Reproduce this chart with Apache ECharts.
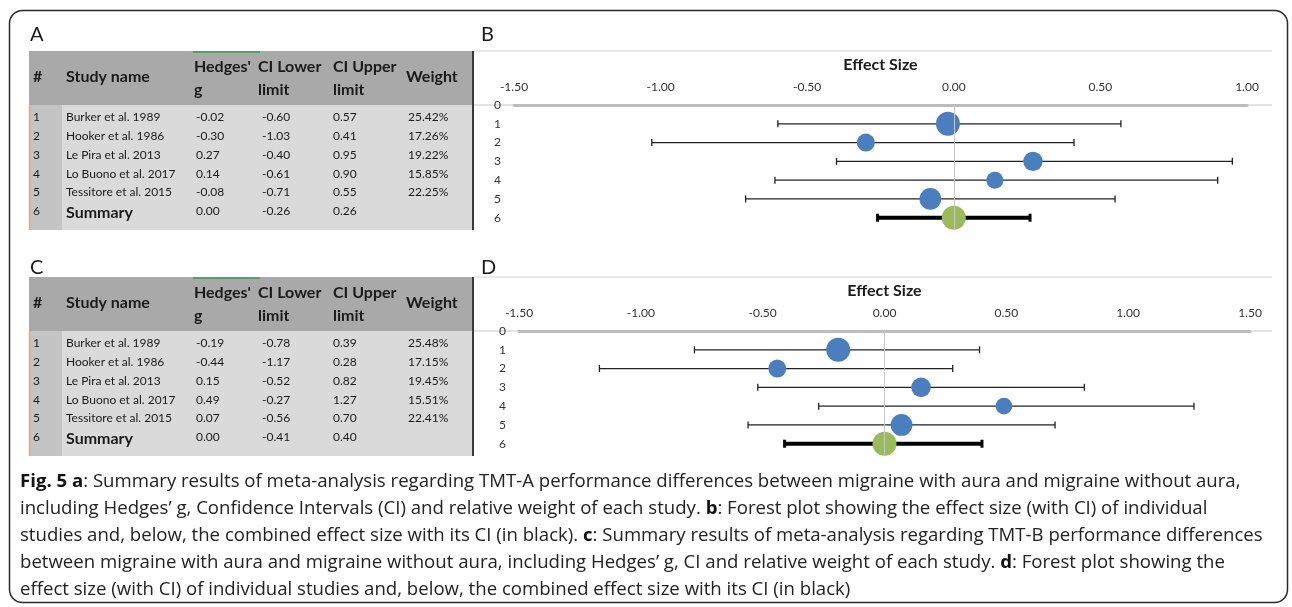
<!DOCTYPE html>
<html>
<head>
<meta charset="utf-8">
<title>Fig. 5 forest plots</title>
<script src="https://cdn.jsdelivr.net/npm/echarts@6/dist/echarts.min.js"></script>
<style>
  html, body { margin: 0; padding: 0; background: #fff; }
  #chart { width: 1292px; height: 607px; }
</style>
</head>
<body>
<div id="chart"></div>
<script>
// studies (same order in both tables)
const rowIds = [1, 2, 3, 4, 5, 6]
const studyNames = ['Burker et al. 1989', 'Hooker et al. 1986', 'Le Pira et al. 2013',
  'Lo Buono et al. 2017', 'Tessitore et al. 2015', 'Summary']

// TMT-A (panels A and B)
const tmtA_g = [-0.02, -0.30, 0.27, 0.14, -0.08, 0.00]
const tmtA_lower = [-0.60, -1.03, -0.40, -0.61, -0.71, -0.26]
const tmtA_upper = [0.57, 0.41, 0.95, 0.90, 0.55, 0.26]
const tmtA_weight = [25.42, 17.26, 19.22, 15.85, 22.25, null]

// TMT-B (panels C and D)
const tmtB_g = [-0.19, -0.44, 0.15, 0.49, 0.07, 0.00]
const tmtB_lower = [-0.78, -1.17, -0.52, -0.27, -0.56, -0.41]
const tmtB_upper = [0.39, 0.28, 0.82, 1.27, 0.70, 0.40]
const tmtB_weight = [25.48, 17.15, 19.45, 15.51, 22.41, null]

// axis ranges of the two forest plots
const axisB = [-1.5, 1.0]
const axisD = [-1.5, 1.5]
const rowTicks = [0, 1, 2, 3, 4, 5, 6]

const captionLines = [
  '{b|Fig. 5 a}: Summary results of meta-analysis regarding TMT-A performance differences between migraine with aura and migraine without aura,',
  'including Hedges\u2019 g, Confidence Intervals (CI) and relative weight of each study. {b|b}: Forest plot showing the effect size (with CI) of individual',
  'studies and, below, the combined effect size with its CI (in black). {b|c}: Summary results of meta-analysis regarding TMT-B performance differences',
  'between migraine with aura and migraine without aura, including Hedges\u2019 g, CI and relative weight of each study. {b|d}: Forest plot showing the',
  'effect size (with CI) of individual studies and, below, the combined effect size with its CI (in black)'
]

const FONT = 'Lato, "Open Sans", sans-serif'
const chart = echarts.init(document.getElementById('chart'))

// one summary table (panel A or C) as graphic elements
function tableGraphic(top, g, lower, upper, weight) {
  const els = []
  const left = 29, right = 473
  const headH = 54, bodyH = 125
  els.push({ type: 'rect', shape: { x: left, y: top, width: right - left, height: headH }, style: { fill: '#a9a9a9' }, silent: true })
  els.push({ type: 'rect', shape: { x: left, y: top + headH, width: right - left, height: bodyH }, style: { fill: '#dadada' }, silent: true })
  els.push({ type: 'rect', shape: { x: left, y: top + headH, width: 33, height: bodyH }, style: { fill: '#c4c4c4' }, silent: true })
  els.push({ type: 'line', shape: { x1: left + 0.5, y1: top + headH, x2: left + 0.5, y2: top + headH + bodyH }, style: { stroke: '#f0a860', lineWidth: 1.5 }, silent: true })
  els.push({ type: 'line', shape: { x1: 193, y1: top + 1, x2: 260, y2: top + 1 }, style: { stroke: '#3c9a5f', lineWidth: 1.5 }, silent: true })
  const hs = { fill: '#1a1a1a', font: 'bold 16px ' + FONT, textVerticalAlign: 'middle' }
  const head = [
    ['#', 33, 26], ['Study name', 66, 26], ['Hedges\'', 194, 16], ['g', 194, 39],
    ['CI Lower', 258, 16], ['limit', 258, 39], ['CI Upper', 333, 16], ['limit', 333, 39], ['Weight', 406, 26]
  ]
  head.forEach(h => {
    els.push({ type: 'text', x: h[1], y: top + h[2], style: Object.assign({ text: h[0] }, hs), silent: true })
  })
  rowIds.forEach((id, i) => {
    const y = top + headH + 12 + i * 18.9
    const isSum = i === rowIds.length - 1
    const cells = [
      [String(id), 33], [studyNames[i], 66], [g[i].toFixed(2), 196],
      [lower[i].toFixed(2), 262], [upper[i].toFixed(2), 333],
      [weight[i] == null ? '' : weight[i].toFixed(2) + '%', 408]
    ]
    cells.forEach((c, j) => {
      const bold = isSum && j === 1
      els.push({
        type: 'text', x: c[1], y: bold ? y + 1 : y, silent: true,
        style: { text: c[0], fill: '#1a1a1a', font: (bold ? 'bold 16px ' : '12px ') + FONT, textVerticalAlign: 'middle' }
      })
    })
  })
  // right border of table = left border of forest plot
  els.push({ type: 'line', shape: { x1: 473, y1: top, x2: 473, y2: top + headH + bodyH }, style: { stroke: '#3a3a3a', lineWidth: 2 }, silent: true })
  els.push({ type: 'line', shape: { x1: 474, y1: top, x2: 1272, y2: top }, style: { stroke: '#d4d4d4', lineWidth: 1 }, silent: true })
  els.push({ type: 'line', shape: { x1: 474, y1: top + headH, x2: 1272, y2: top + headH }, style: { stroke: '#c8c8c8', lineWidth: 1 }, silent: true })
  return els
}

function panelLabel(txt, x, y) {
  return { type: 'text', x: x, y: y, silent: true, style: { text: txt, fill: '#1a1a1a', font: '20px ' + FONT, textVerticalAlign: 'middle' } }
}

const graphics = [].concat(
  [{ type: 'rect', shape: { x: 9.5, y: 10.5, width: 1278, height: 592, r: 13 }, style: { fill: 'none', stroke: '#2a2a2a', lineWidth: 1.5 }, silent: true }],
  [panelLabel('A', 30, 35), panelLabel('B', 481, 35), panelLabel('C', 30, 268), panelLabel('D', 481, 268)],
  tableGraphic(51, tmtA_g, tmtA_lower, tmtA_upper, tmtA_weight),
  tableGraphic(277, tmtB_g, tmtB_lower, tmtB_upper, tmtB_weight),
  captionLines.map((line, i) => ({
    type: 'text', x: 20, y: 482 + i * 27, silent: true,
    style: {
      text: line, fill: '#222', font: '18.6px "Open Sans", sans-serif', textVerticalAlign: 'middle',
      rich: { b: { font: 'bold 18.6px "Open Sans", sans-serif', fill: '#111' } }
    }
  }))
)

function xAxisFor(idx, range) {
  return {
    gridIndex: idx, type: 'value', position: 'top', min: range[0], max: range[1], interval: 0.5,
    name: 'Effect Size', nameLocation: 'middle', nameGap: 32,
    nameTextStyle: { fontFamily: FONT, fontWeight: 'bold', fontSize: 16, color: '#1a1a1a' },
    axisLine: { show: true, lineStyle: { color: '#bdbdbd', width: 3 } },
    axisTick: { show: false },
    splitLine: { show: false },
    axisLabel: { margin: 12, fontFamily: FONT, fontSize: 12, color: '#333', formatter: v => v.toFixed(2) }
  }
}

function yAxisFor(idx) {
  return {
    gridIndex: idx, type: 'value', inverse: true, min: 0, max: 6.6, interval: 1,
    axisLine: { show: false }, axisTick: { show: false }, splitLine: { show: false },
    axisLabel: { margin: 13, fontFamily: FONT, fontSize: 12, color: '#333', showMaxLabel: false,
      formatter: v => rowTicks.indexOf(v) >= 0 ? String(v) : '' }
  }
}

// horizontal CI line with end caps; summary row drawn thick
function ciRender(params, api) {
  const lo = api.coord([api.value(0), api.value(2)])
  const hi = api.coord([api.value(1), api.value(2)])
  const isSum = api.value(2) === 6
  const w = isSum ? 4 : 1.3
  const cap = isSum ? 4 : 3.5
  const stroke = isSum ? '#000' : '#222'
  return {
    type: 'group',
    children: [
      { type: 'line', shape: { x1: lo[0], y1: lo[1], x2: hi[0], y2: hi[1] }, style: { stroke: stroke, lineWidth: w } },
      { type: 'line', shape: { x1: lo[0], y1: lo[1] - cap, x2: lo[0], y2: lo[1] + cap }, style: { stroke: stroke, lineWidth: isSum ? 3 : 1.3 } },
      { type: 'line', shape: { x1: hi[0], y1: hi[1] - cap, x2: hi[0], y2: hi[1] + cap }, style: { stroke: stroke, lineWidth: isSum ? 3 : 1.3 } }
    ]
  }
}

function seriesFor(idx, g, lower, upper, weight) {
  const ci = rowIds.map((id, i) => [lower[i], upper[i], id])
  const pts = rowIds.slice(0, 5).map((id, i) => [g[i], id, weight[i]])
  const sum = [[g[5], rowIds[5]]]
  return [
    {
      type: 'custom', xAxisIndex: idx, yAxisIndex: idx, renderItem: ciRender,
      encode: { x: [0, 1], y: 2 }, data: ci, z: 2,
      markLine: {
        silent: true, symbol: 'none', label: { show: false },
        lineStyle: { color: '#c8c8c8', width: 1, type: 'solid' },
        data: [{ xAxis: 0 }]
      }
    },
    {
      type: 'scatter', xAxisIndex: idx, yAxisIndex: idx, data: pts, z: 3,
      symbolSize: d => 0.73 * d[2] + 5.4,
      itemStyle: { color: '#4a7ebf', opacity: 1 }
    },
    {
      type: 'scatter', xAxisIndex: idx, yAxisIndex: idx, data: sum, z: 4,
      symbolSize: 24, itemStyle: { color: '#9bbb59', opacity: 1 }
    }
  ]
}

const option = {
  animation: false,
  backgroundColor: '#fff',
  grid: [
    { left: 514, right: 45, top: 105, height: 124 },
    { left: 519, right: 42, top: 331, height: 124 }
  ],
  xAxis: [xAxisFor(0, axisB), xAxisFor(1, axisD)],
  yAxis: [yAxisFor(0), yAxisFor(1)],
  series: [].concat(
    seriesFor(0, tmtA_g, tmtA_lower, tmtA_upper, tmtA_weight),
    seriesFor(1, tmtB_g, tmtB_lower, tmtB_upper, tmtB_weight)
  ),
  graphic: graphics
}

chart.setOption(option)
window.addEventListener('resize', function () {
  chart.resize()
})
</script>
</body>
</html>
